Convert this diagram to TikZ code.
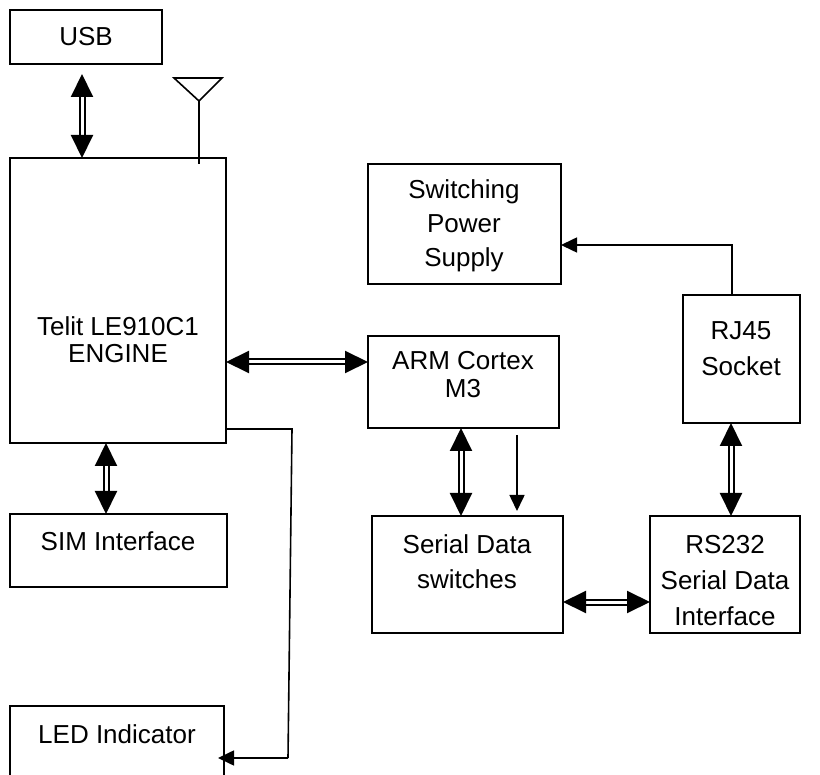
\documentclass[tikz,border=0pt]{standalone}
\usepackage{fontspec}
\setmainfont{Liberation Sans}
\usetikzlibrary{arrows.meta}
\tikzset{
  box/.style={draw, line width=1.6pt, anchor=north west, inner sep=0pt, outer sep=0pt},
  txt/.style={align=center, inner sep=0pt},
  dbl/.style={double, line width=2pt, double distance=3pt,
    {Triangle[length=23pt,width=22pt]}-{Triangle[length=23pt,width=22pt]}},
  wire/.style={line width=1.6pt},
  sgl/.style={wire, -{Triangle[length=16pt,width=15pt]}},
}
\begin{document}
\begin{tikzpicture}[x=1pt,y=-1pt]
\useasboundingbox (0,0) rectangle (820,775);
\clip (0,0) rectangle (820,775);
% boxes
\node[box, minimum width=152pt, minimum height=54pt]  (usb)   at (10,10)  {};
\node[box, minimum width=216pt, minimum height=285pt] (telit) at (10,158) {};
\node[box, minimum width=217pt, minimum height=73pt]  (sim)   at (10,514) {};
\node[box, minimum width=214pt, minimum height=100pt] (led)   at (10,706) {};
\node[box, minimum width=193pt, minimum height=120pt] (sps)   at (368,164) {};
\node[box, minimum width=191pt, minimum height=92pt]  (arm)   at (368,336) {};
\node[box, minimum width=191pt, minimum height=117pt] (sds)   at (372,516) {};
\node[box, minimum width=150pt, minimum height=117pt] (rs)    at (650,516) {};
\node[box, minimum width=117pt, minimum height=128pt] (rj)    at (683,295) {};
% texts
\node[txt, font=\fontsize{26pt}{30pt}\selectfont] (usbT) at (86,37) {USB};
\node[txt, font=\fontsize{26pt}{27pt}\selectfont] (telitT) at (118,340) {Telit LE910C1\\ENGINE};
\node[txt, font=\fontsize{26pt}{30pt}\selectfont] (simT) at (118,541) {SIM Interface};
\node[txt, font=\fontsize{26pt}{30pt}\selectfont] (ledT) at (117,734) {LED Indicator};
\node[txt, font=\fontsize{26pt}{34pt}\selectfont] (spsT) at (464,226) {Switching\\Power\\Supply};
\node[txt, font=\fontsize{26pt}{28pt}\selectfont] (armT) at (463,375) {ARM Cortex\\M3};
\node[txt, font=\fontsize{26pt}{35pt}\selectfont] (sdsT) at (467,562) {Serial Data\\switches};
\node[txt, font=\fontsize{26pt}{36pt}\selectfont] (rsT) at (725,581) {RS232\\Serial Data\\Interface};
\node[txt, font=\fontsize{26pt}{36pt}\selectfont] (rjT) at (741,349) {RJ45\\Socket};
% antenna
\coordinate (antTop) at (199,101);
\draw[wire, line join=miter] (174,78) -- (222,78) -- (antTop) -- cycle;
\draw[wire] (antTop) -- (telit.north -| antTop) -- ++(0,6);
% helper coordinates
\coordinate (x82) at (82,0);
\coordinate (x106) at (106,0);
\coordinate (x461) at (461,0);
\coordinate (x517) at (517,0);
\coordinate (x731) at (731,0);
\coordinate (x732) at (732,0);
\coordinate (y362) at (0,362);
\coordinate (y602) at (0,602);
\coordinate (y245) at (0,245);
\coordinate (y429) at (0,429);
\coordinate (w1) at (292,429);
\coordinate (w2) at (288,758);
% connectors
\draw[dbl, shorten <=10pt] (usb.south -| x82) -- (telit.north -| x82);
\draw[dbl] (telit.east |- y362) -- (arm.west |- y362);
\draw[dbl] (telit.south -| x106) -- (sim.north -| x106);
\draw[dbl] (arm.south -| x461) -- (sds.north -| x461);
\draw[sgl, shorten <=7pt, shorten >=5pt] (arm.south -| x517) -- (sds.north -| x517);
\draw[dbl] (sds.east |- y602) -- (rs.west |- y602);
\draw[dbl] (rj.south -| x731) -- (rs.north -| x731);
\draw[sgl] (rj.north -| x732) |- (sps.east |- y245);
\draw[wire] (telit.east |- y429) -- (w1) -- (w2);
\draw[sgl, shorten >=-6pt] (w2) -- (led.east |- w2);
\end{tikzpicture}
\end{document}
